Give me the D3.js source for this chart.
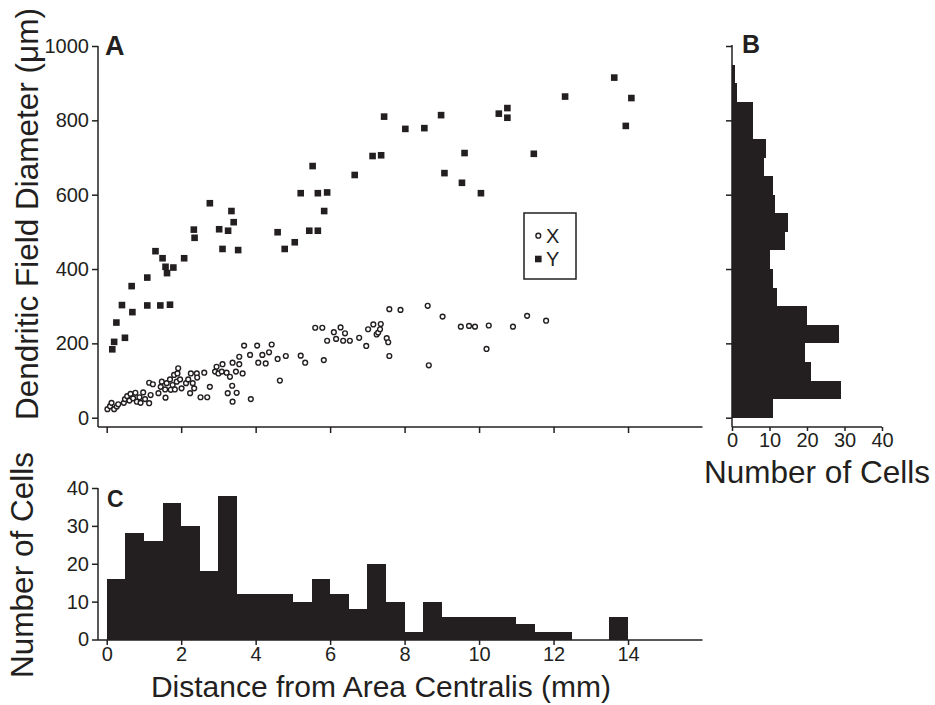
<!DOCTYPE html>
<html>
<head>
<meta charset="utf-8">
<script src="https://cdn.jsdelivr.net/npm/d3@7"></script>
<style>
  body { margin: 0; background: #fff; }
  text { font-family: "Liberation Sans", Arial, Helvetica, sans-serif; fill: #231f20; }
</style>
</head>
<body>
<svg id="chart"></svg>
<script>
var width = 935;
var height = 705;
var ink = '#231f20';

// X cells: [distance from area centralis (mm), dendritic field diameter (um)]
var xCells = [
    [0.02, 23], [0.09, 31], [0.13, 40], [0.20, 23], [0.27, 30], [0.31, 36],
    [0.46, 40], [0.49, 50], [0.55, 58], [0.61, 46], [0.64, 64], [0.71, 52],
    [0.77, 67], [0.81, 43], [0.88, 55], [0.91, 40], [0.98, 68], [1.03, 50],
    [1.14, 39], [1.18, 61], [1.14, 94], [1.24, 90], [1.39, 66], [1.45, 83],
    [1.48, 97], [1.57, 76], [1.58, 54], [1.61, 93], [1.70, 103], [1.72, 75],
    [1.77, 88], [1.81, 115], [1.83, 76], [1.88, 97], [1.92, 133], [1.90, 119],
    [1.97, 103], [2.01, 79], [2.13, 93], [2.19, 103], [2.26, 119], [2.24, 66],
    [2.31, 93], [2.35, 79], [2.42, 119], [2.43, 108], [2.62, 121], [2.52, 55],
    [2.70, 55], [2.77, 83], [2.91, 124], [2.95, 137], [3.00, 119], [3.11, 144],
    [3.09, 124], [3.22, 121], [3.25, 66], [3.31, 110], [3.37, 86], [3.38, 43],
    [3.38, 148], [3.47, 124], [3.49, 67], [3.56, 164], [3.56, 144], [3.65, 119],
    [3.69, 194], [3.85, 169], [3.87, 50], [4.04, 194], [4.07, 148], [4.18, 169],
    [4.27, 146], [4.36, 176], [4.43, 197], [4.59, 158], [4.65, 100], [4.81, 166],
    [5.21, 167], [5.33, 148], [5.60, 242], [5.79, 242], [5.83, 155], [5.92, 207],
    [6.10, 230], [6.16, 212], [6.28, 243], [6.40, 227], [6.35, 207], [6.53, 207],
    [6.78, 215], [6.97, 193], [7.02, 238], [7.16, 251], [7.25, 224], [7.29, 229],
    [7.34, 238], [7.36, 252], [7.52, 214], [7.56, 203], [7.59, 166], [7.59, 292],
    [7.89, 290], [8.62, 301], [8.65, 141], [9.02, 272], [9.51, 245], [9.73, 247],
    [9.89, 245], [10.20, 185], [10.26, 248], [10.91, 245], [11.29, 274], [11.80, 261]
];

// Y cells
var yCells = [
    [0.15, 184], [0.20, 204], [0.26, 256], [0.41, 303], [0.49, 215], [0.67, 354],
    [0.69, 284], [1.09, 377], [1.09, 302], [1.31, 448], [1.44, 302], [1.50, 429],
    [1.58, 406], [1.62, 389], [1.70, 304], [1.79, 404], [2.08, 429], [2.34, 506],
    [2.36, 484], [2.77, 577], [3.02, 507], [3.11, 454], [3.26, 503], [3.35, 556],
    [3.41, 526], [3.53, 451], [4.59, 499], [4.78, 454], [5.05, 472], [5.21, 604],
    [5.44, 503], [5.53, 677], [5.67, 604], [5.67, 503], [5.84, 556], [5.92, 606],
    [6.66, 653], [7.14, 704], [7.37, 706], [7.45, 810], [8.02, 777], [8.53, 779],
    [8.98, 814], [9.07, 658], [9.54, 632], [9.61, 712], [10.05, 604], [10.53, 818],
    [10.76, 833], [10.76, 807], [11.47, 710], [12.31, 864], [13.63, 915], [13.94, 785],
    [14.09, 860]
];

// panel B: counts per 50 um diameter bin, starting at 0
var diamBinWidth = 50;
var diamCounts = [11, 29, 21, 19.5, 28.5, 20, 12, 11, 10, 14, 15, 11.5, 11, 8.5, 9, 5.5, 5.5, 1.3, 0.9];

// panel C: counts per 0.5 mm distance bin, starting at 0
var distBinWidth = 0.5;
var distCounts = [16, 28, 26, 36, 30, 18, 38, 12, 12, 12, 10, 16, 12, 8, 20, 10,
                  2, 10, 6, 6, 6, 6, 4, 2, 2, 0, 0, 6];

var distTicks = [0, 2, 4, 6, 8, 10, 12, 14];
var diamTicks = [0, 200, 400, 600, 800, 1000];
var cellTicksB = [0, 10, 20, 30, 40];
var cellTicksC = [0, 10, 20, 30, 40];

var svg = d3.select('#chart')
    .attr('width', width)
    .attr('height', height);

// shared scales
var x = d3.scaleLinear().domain([0, 16]).range([106.7, 702.5]);
var y = d3.scaleLinear().domain([0, 1000]).range([417.7, 46]);
var xB = d3.scaleLinear().domain([0, 40]).range([732, 882]);
var yC = d3.scaleLinear().domain([0, 40]).range([639.5, 488]);

function line(x1, y1, x2, y2) {
    svg.append('line')
        .attr('x1', x1).attr('y1', y1).attr('x2', x2).attr('y2', y2)
        .attr('stroke', ink).attr('stroke-width', 1.5);
}

function styleAxis(g) {
    g.select('.domain').remove();
    g.selectAll('.tick line').attr('stroke', ink).attr('stroke-width', 1.5);
    g.selectAll('.tick text')
        .attr('fill', ink)
        .style('font-size', '20px')
        .style('font-family', '"Liberation Sans", Arial, sans-serif');
}

// ---- panel A ----
line(98, 46, 98, 427);
line(98, 427, 702.5, 427);

svg.append('g')
    .attr('transform', 'translate(98,0)')
    .call(d3.axisLeft(y).tickValues(diamTicks).tickSize(6).tickPadding(3).tickFormat(d3.format('d')))
    .call(styleAxis);

svg.append('g')
    .attr('transform', 'translate(0,427)')
    .call(d3.axisBottom(x).tickValues(distTicks).tickSize(6).tickFormat(''))
    .call(styleAxis);

svg.append('g').selectAll('circle')
    .data(xCells)
    .enter().append('circle')
    .attr('cx', d => x(d[0]))
    .attr('cy', d => y(d[1]))
    .attr('r', 2.4)
    .attr('fill', '#fff')
    .attr('stroke', ink)
    .attr('stroke-width', 1.4);

svg.append('g').selectAll('rect')
    .data(yCells)
    .enter().append('rect')
    .attr('x', d => x(d[0]) - 3.3)
    .attr('y', d => y(d[1]) - 3.3)
    .attr('width', 6.6)
    .attr('height', 6.6)
    .attr('fill', ink);

// legend
var legend = svg.append('g').attr('transform', 'translate(524,213)');
legend.append('rect')
    .attr('width', 52).attr('height', 66)
    .attr('fill', 'none').attr('stroke', ink).attr('stroke-width', 1.5);
legend.append('circle')
    .attr('cx', 14.3).attr('cy', 22.7).attr('r', 2.4)
    .attr('fill', '#fff').attr('stroke', ink).attr('stroke-width', 1.4);
legend.append('rect')
    .attr('x', 11).attr('y', 42.7).attr('width', 6.6).attr('height', 6.6)
    .attr('fill', ink);
legend.append('text').attr('x', 22).attr('y', 30).style('font-size', '20px').text('X');
legend.append('text').attr('x', 22).attr('y', 53).style('font-size', '20px').text('Y');

svg.append('text')
    .attr('x', 105).attr('y', 55)
    .style('font-size', '27px').style('font-weight', 'bold')
    .text('A');

svg.append('text')
    .attr('transform', 'translate(38,420) rotate(-90)')
    .style('font-size', '31.5px')
    .text('Dendritic Field Diameter (μm)');

// ---- panel B ----
svg.append('g')
    .attr('shape-rendering', 'crispEdges')
    .selectAll('rect')
    .data(diamCounts)
    .enter().append('rect')
    .attr('x', xB(0))
    .attr('y', (d, i) => y((i + 1) * diamBinWidth))
    .attr('width', d => xB(d) - xB(0))
    .attr('height', (d, i) => y(i * diamBinWidth) - y((i + 1) * diamBinWidth))
    .attr('fill', ink);

line(732, 45, 732, 427);
line(732, 427, 882, 427);

svg.append('g')
    .attr('transform', 'translate(732,0)')
    .call(d3.axisLeft(y).tickValues(diamTicks).tickSize(6).tickFormat(''))
    .call(styleAxis);

svg.append('g')
    .attr('transform', 'translate(0,427)')
    .call(d3.axisBottom(xB).tickValues(cellTicksB).tickSize(4).tickPadding(2))
    .call(styleAxis);

svg.append('text')
    .attr('x', 742).attr('y', 53)
    .style('font-size', '25px').style('font-weight', 'bold')
    .text('B');

svg.append('text')
    .attr('x', 817).attr('y', 483)
    .attr('text-anchor', 'middle')
    .style('font-size', '31.5px')
    .text('Number of Cells');

// ---- panel C ----
svg.append('g')
    .attr('shape-rendering', 'crispEdges')
    .selectAll('rect')
    .data(distCounts)
    .enter().append('rect')
    .attr('x', (d, i) => x(i * distBinWidth))
    .attr('y', d => yC(d))
    .attr('width', (d, i) => x((i + 1) * distBinWidth) - x(i * distBinWidth))
    .attr('height', d => yC(0) - yC(d))
    .attr('fill', ink);

line(98, 488, 98, 640);
line(98, 640, 702.5, 640);

svg.append('g')
    .attr('transform', 'translate(98,0)')
    .call(d3.axisLeft(yC).tickValues(cellTicksC).tickSize(6).tickPadding(3))
    .call(styleAxis);

svg.append('g')
    .attr('transform', 'translate(0,640)')
    .call(d3.axisBottom(x).tickValues(distTicks).tickSize(5).tickPadding(2))
    .call(styleAxis);

svg.append('text')
    .attr('x', 107).attr('y', 507)
    .style('font-size', '23px').style('font-weight', 'bold')
    .text('C');

svg.append('text')
    .attr('transform', 'translate(33,565) rotate(-90)')
    .attr('text-anchor', 'middle')
    .style('font-size', '31.5px')
    .text('Number of Cells');

svg.append('text')
    .attr('x', 381).attr('y', 697)
    .attr('text-anchor', 'middle')
    .style('font-size', '30px')
    .text('Distance from Area Centralis (mm)');
</script>
</body>
</html>
